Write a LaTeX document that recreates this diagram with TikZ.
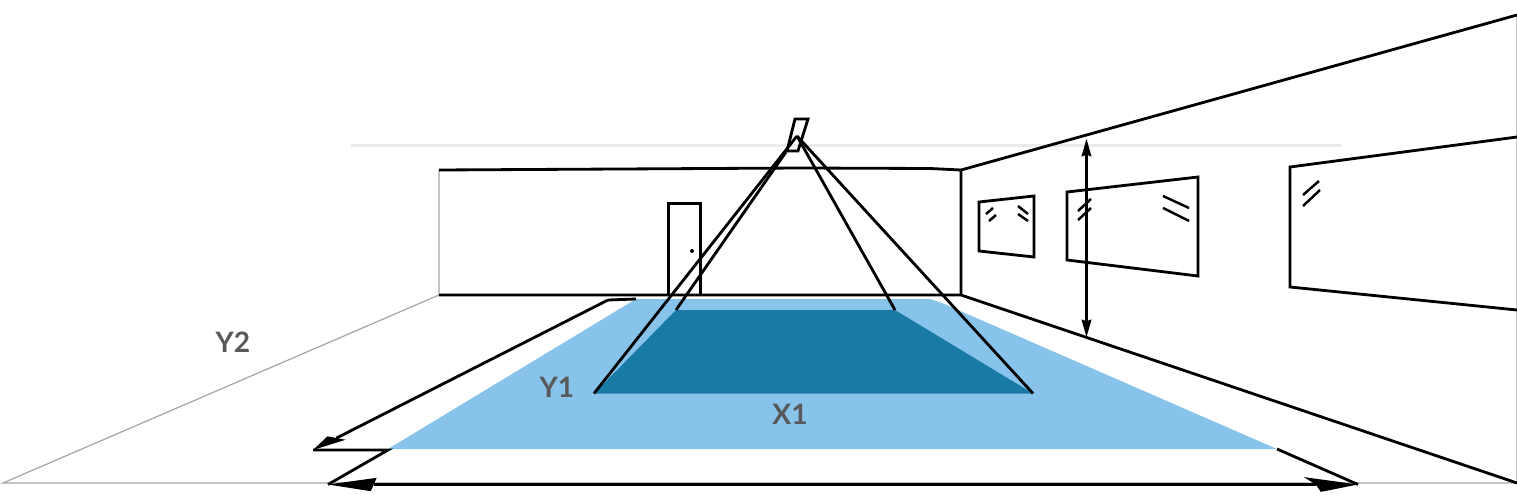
\documentclass[tikz,border=0pt]{standalone}
\usepackage{fontspec}
\setmainfont{Lato}
\usetikzlibrary{arrows.meta}
\definecolor{floorlight}{RGB}{135,195,234}
\definecolor{floordark}{RGB}{26,122,166}
\definecolor{faintline}{RGB}{235,235,235}
\definecolor{labelgray}{RGB}{89,89,89}

\begin{document}
\begin{tikzpicture}[x=0.01cm,y=-0.01cm]
	\tikzstyle{wall} = [black,line width=0.8pt]
	\tikzstyle{edge} = [black!35,line width=0.35pt]
	\tikzstyle{glint} = [black,line width=0.7pt]
	\tikzstyle{dimline} = [black,line width=0.8pt]
	\tikzstyle{dimlabel} = [text=labelgray,font=\fontsize{8pt}{9pt}\selectfont\bfseries,inner sep=0pt]
	\useasboundingbox (0,0) rectangle (1517,500);
	% corners of the lit floor
	\coordinate (outerA) at (636,299);
	\coordinate (outerB) at (930,299);
	\coordinate (outerC) at (1277,449);
	\coordinate (outerD) at (388,449);
	\coordinate (innerA) at (676,310);
	\coordinate (innerB) at (895,310);
	\coordinate (innerC) at (1033,393.5);
	\coordinate (innerD) at (594,393.5);
	\fill[floorlight] (outerA) -- (outerB) -- (942,303) -- (outerC) -- (outerD) -- cycle;
	\fill[floordark] (innerA) -- (innerB) -- (innerC) -- (innerD) -- cycle;
	% room
	\draw[faintline,line width=0.9pt] (351,145.5) -- (1342,145.5);
	\draw[edge] (439,170) -- (439,295) -- (3,483) -- (1517,483) -- (1517,15);
	\draw[wall] (439,170) -- (800,168) -- (930,168.5) -- (961,170) -- (961,295);
	\draw[wall] (439,295) -- (961,295) -- (1517,483);
	\draw[wall] (961,170) -- (1517,15);
	% door
	\draw[wall] (668.6,294) -- (668.6,203.5) -- (700.4,203.5) -- (700.4,294);
	\fill (692,251) circle (2);
	% windows
	\draw[wall] (979,202) -- (1034,196) -- (1034,257) -- (979,251) -- cycle;
	\draw[wall] (1067,192) -- (1198,177) -- (1198,276) -- (1067,260) -- cycle;
	\draw[wall] (1517,137) -- (1290,167) -- (1290,287) -- (1517,310);
	\foreach \xa/\ya/\xb/\yb in {986/214/993/208,989/221/996/215,1018/206/1028/214,1018/214/1028/221,1078/211/1091/199,1078/220/1091/208,1163/196/1189/208,1163/208/1189/221,1303/195/1319/181,1303/206/1320/190}
		\draw[glint] (\xa,\ya) -- (\xb,\yb);
	% projector
	\coordinate (lens) at (797,136);
	\coordinate (lensB) at (786,152);
	\draw[wall] (795,119) -- (808,119) -- (798,151) -- (787,151) -- cycle;
	% rays
	\draw[wall] (lens) -- (innerD);
	\draw[wall] (lens) -- (innerC);
	\draw[wall] (lens) -- (innerB);
	\draw[wall] (lensB) -- (innerA);
	% dimensions
	\coordinate (yEnd) at (313,450);
	\coordinate (yStart) at (608,300);
	\coordinate (yFoot) at (388,450);
	\coordinate (xLeft) at (328,484.5);
	\coordinate (xRight) at (1358,484.5);
	\draw[dimline] (outerA) -- (yStart);
	\draw[dimline,-{Stealth[length=7.5pt,width=3.2pt,inset=0pt,slant=-1.3,line width=0pt]}] (yStart) -- (yEnd);
	\draw[dimline] (yEnd) -- (yFoot) -- (xLeft);
	\draw[dimline,{Stealth[length=13pt,width=3.8pt,inset=0pt,slant=0.45,line width=0pt]}-{Stealth[length=13pt,width=4.2pt,inset=1pt,slant=-1.15,line width=0pt]}] (xLeft) -- (xRight);
	\draw[dimline] (outerC) -- (xRight);
	\draw[dimline,{Stealth[length=5pt,width=2.9pt,inset=0.5pt,line width=0pt]}-{Stealth[length=5pt,width=2.9pt,inset=0.5pt,line width=0pt]}] (1086.5,139) -- (1086.5,337);
	% labels
	\node[dimlabel] (labelY2) at (233,342) {Y2};
	\node[dimlabel] (labelY1) at (557,387) {Y1};
	\node[dimlabel] (labelX1) at (790,414) {X1};
\end{tikzpicture}
\end{document}
